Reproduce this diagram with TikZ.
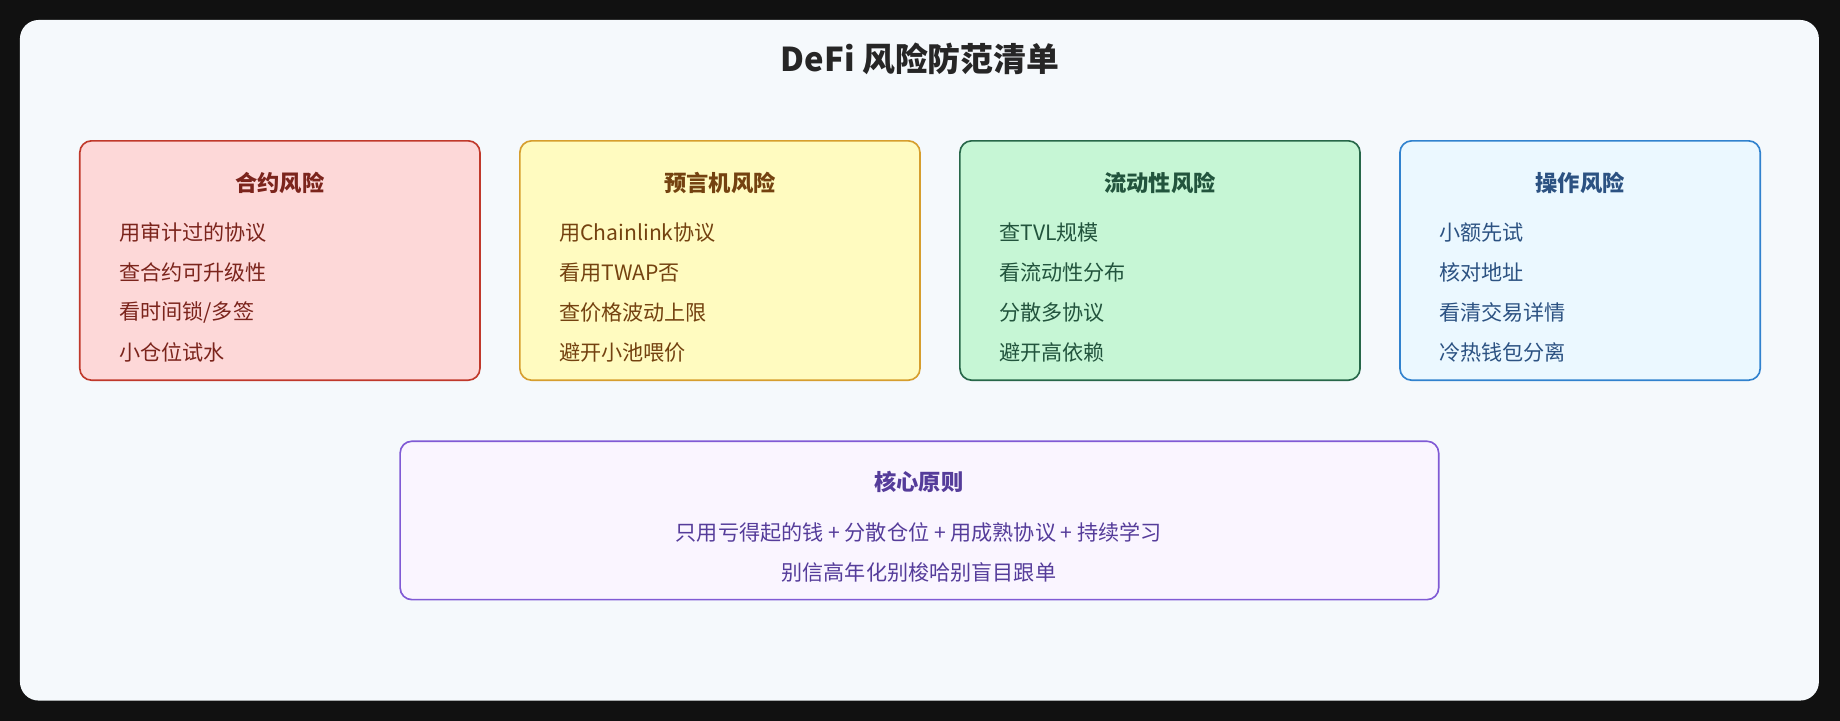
\documentclass[tikz,border=0pt]{standalone}
\usepackage{fontspec}
\setmainfont{Noto Sans CJK SC}
\begin{document}
\begin{tikzpicture}[x=1pt,y=-1pt,
 box/.style={rounded corners=10pt,line width=1.4pt},
 ttl/.style={anchor=center,font=\fontsize{19}{22}\selectfont\bfseries},
 itm/.style={anchor=west,font=\fontsize{18}{22}\selectfont}]
\definecolor{bg}{HTML}{111111}
\definecolor{card}{HTML}{F5F9FC}
\useasboundingbox (0,0) rectangle (1568,614);
\fill[bg] (0,0) rectangle (1568,614);
\fill[card,rounded corners=16pt] (17,17) rectangle (1550,597);
\node[font=\fontsize{28}{32}\selectfont\bfseries,text=black!85] (title) at (784,50) {DeFi 风险防范清单};
% boxes
\newcommand{\riskbox}[8]{%
 \draw[box,draw=#3,fill=#2] (#1,120) rectangle (#7,324);
 \node[ttl,text=#4] (#8t) at ({(#1+#7)/2},156) {#5};
 \foreach \s [count=\i] in {#6} \node[itm,text=#4] (#8\i) at (#1+30,164+34*\i) {\s};}
\definecolor{r1}{HTML}{FDD8D8}\definecolor{r2}{HTML}{C0392B}\definecolor{r3}{HTML}{7B241C}
\definecolor{y1}{HTML}{FFFBC0}\definecolor{y2}{HTML}{D69E2E}\definecolor{y3}{HTML}{744210}
\definecolor{g1}{HTML}{C6F6D5}\definecolor{g2}{HTML}{276749}\definecolor{g3}{HTML}{22543D}
\definecolor{b1}{HTML}{EBF8FF}\definecolor{b2}{HTML}{3182CE}\definecolor{b3}{HTML}{2C5282}
\definecolor{p1}{HTML}{FAF5FF}\definecolor{p2}{HTML}{805AD5}\definecolor{p3}{HTML}{553C9A}
\riskbox{68}{r1}{r2}{r3}{合约风险}{用审计过的协议,查合约可升级性,看时间锁/多签,小仓位试水}{409}{a}
\riskbox{443}{y1}{y2}{y3}{预言机风险}{用Chainlink协议,看用TWAP否,查价格波动上限,避开小池喂价}{784}{b}
\riskbox{818}{g1}{g2}{g3}{流动性风险}{查TVL规模,看流动性分布,分散多协议,避开高依赖}{1159}{c}
\riskbox{1193}{b1}{b2}{b3}{操作风险}{小额先试,核对地址,看清交易详情,冷热钱包分离}{1500}{d}
\draw[box,draw=p2,fill=p1] (341,376) rectangle (1226,511);
\node[ttl,text=p3] (core) at (783,411) {核心原则};
\node[font=\fontsize{18}{22}\selectfont,text=p3] (c1) at (783,454) {只用亏得起的钱 + 分散仓位 + 用成熟协议 + 持续学习};
\node[font=\fontsize{18}{22}\selectfont,text=p3] (c2) at (783,488) {别信高年化别梭哈别盲目跟单};
\end{tikzpicture}
\end{document}
